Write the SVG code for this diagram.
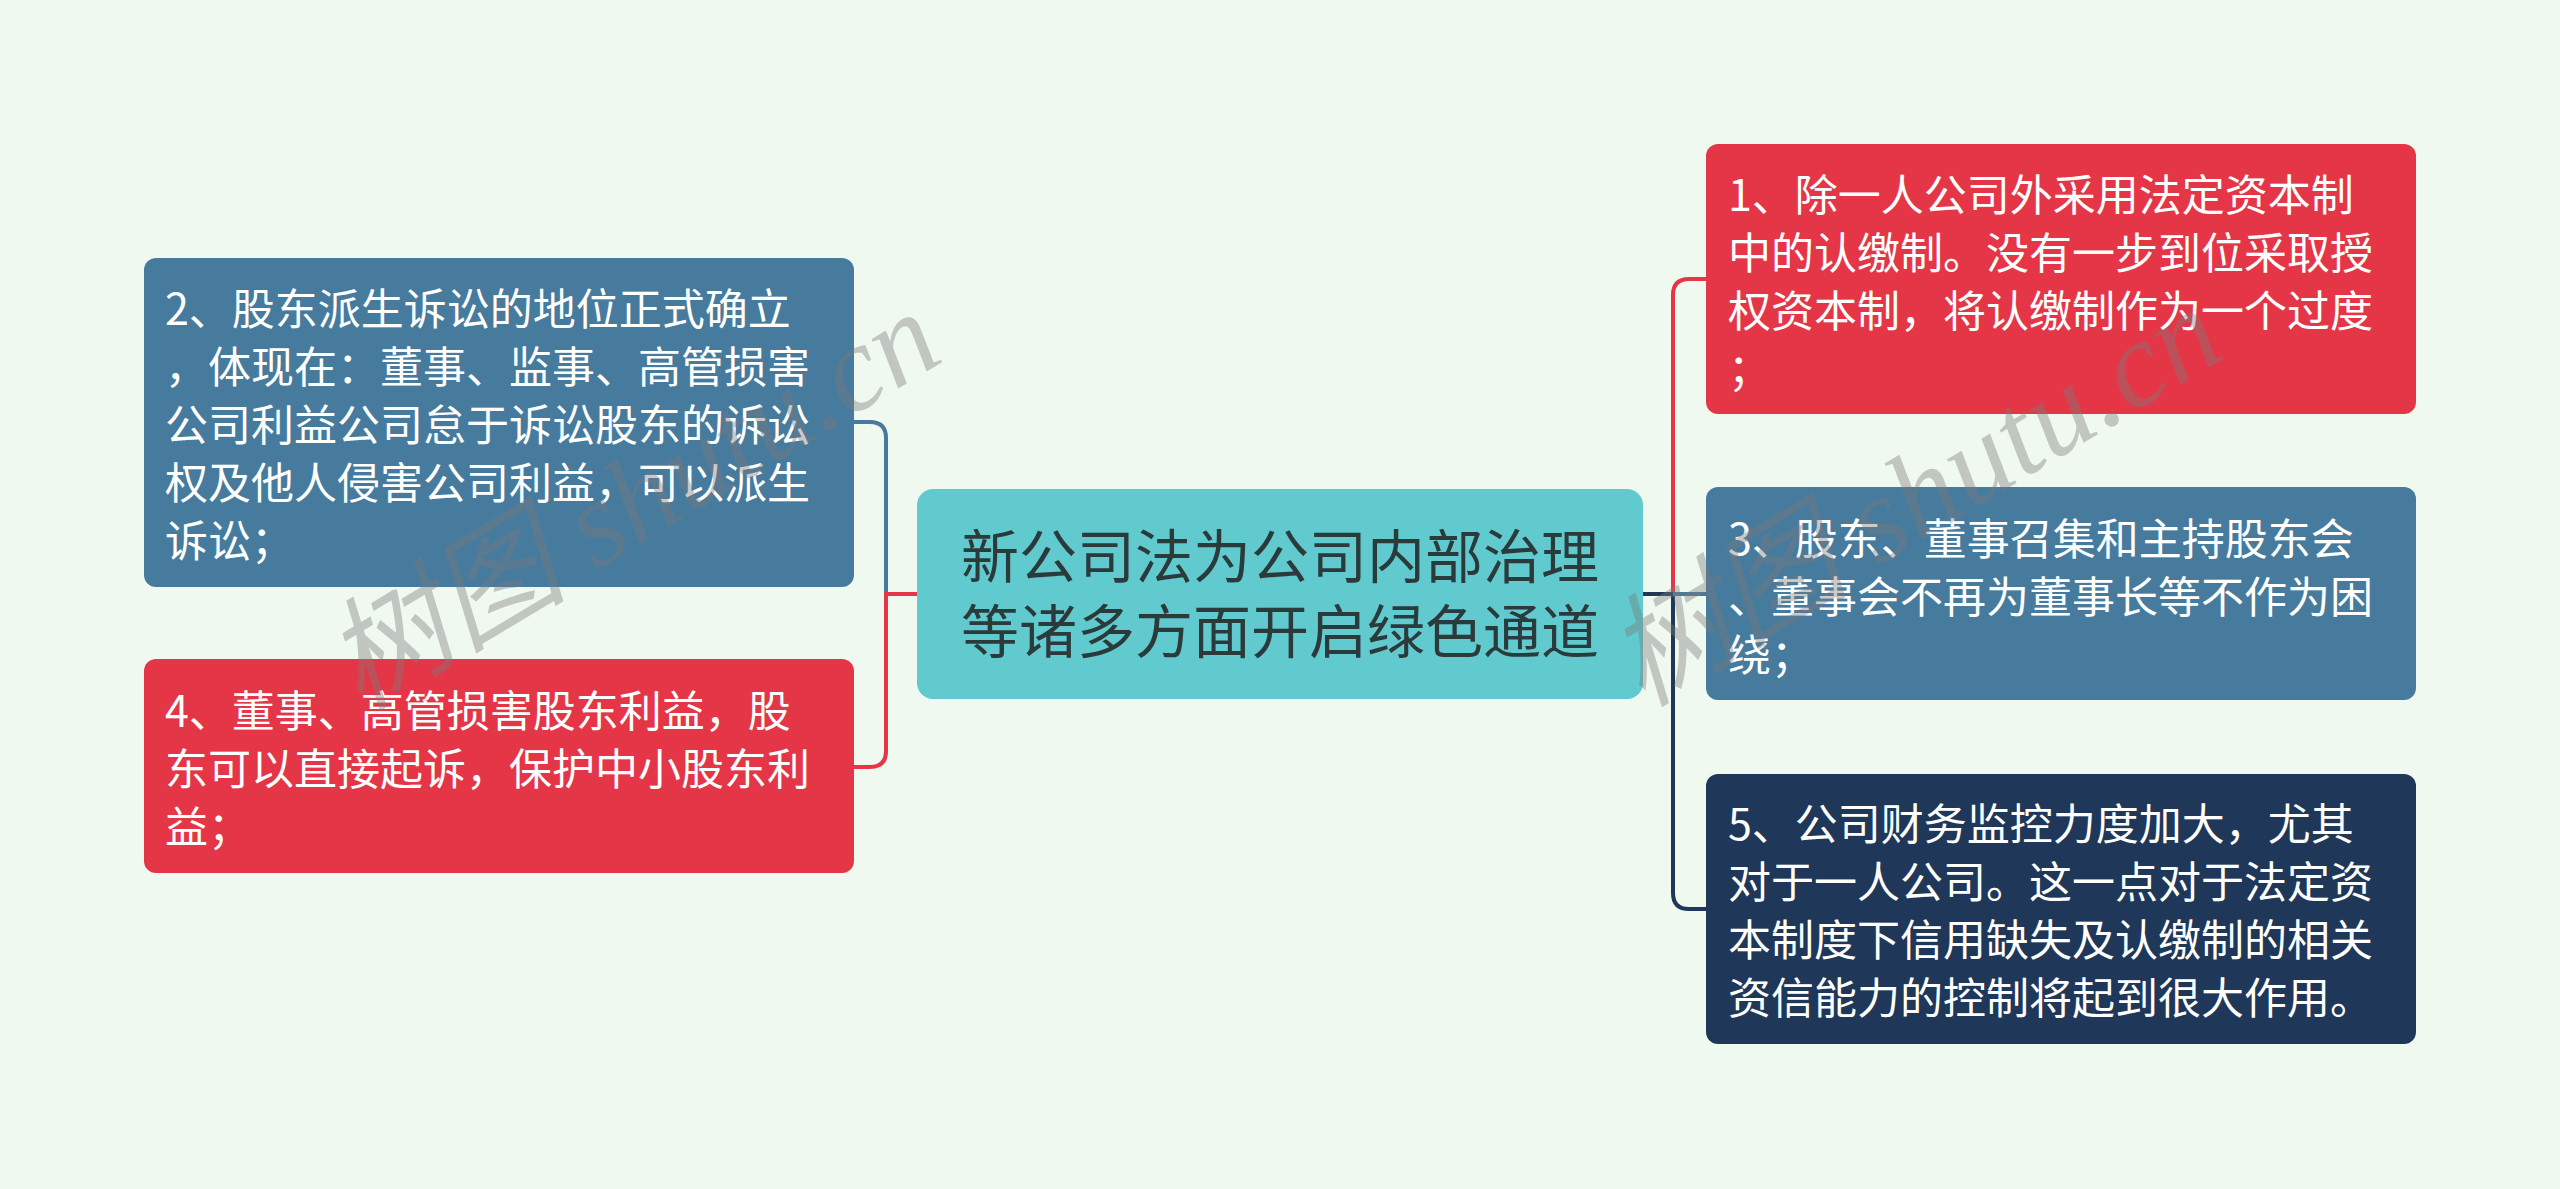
<svg xmlns="http://www.w3.org/2000/svg" width="2560" height="1189" viewBox="0 0 2560 1189">
<style>
.bg{fill:#F0F9EF}
.t{font-family:"Noto Sans CJK SC","Noto Sans",sans-serif;font-size:43px;fill:#FFFFFF}
.tc{font-family:"Noto Sans CJK SC","Noto Sans",sans-serif;font-size:58px;fill:#2B3A3B;text-anchor:middle}
.red{fill:#E43646}
.blue{fill:#467B9E}
.navy{fill:#1F3758}
.teal{fill:#60CACE}
.c{fill:none;stroke-width:4;stroke-linecap:butt}
.wm{font-family:"Liberation Serif","Noto Sans CJK SC",serif;font-size:122px;fill:#7A7A7A;fill-opacity:0.4;font-style:italic}
</style>
<rect class="bg" x="0" y="0" width="2560" height="1189"/>
<g id="connectors">
<path class="c" stroke="#467B9E" d="M854,422 H870 Q886,422 886,438 V594"/>
<path class="c" stroke="#E43646" d="M917,594 H886 V751 Q886,767 870,767 H854"/>
<path class="c" stroke="#E43646" d="M1706,279 H1689 Q1673,279 1673,295 V594"/>
<path class="c" stroke="#1F3758" d="M1643,594 H1673 V893 Q1673,909 1689,909 H1706"/>
<path class="c" stroke="#467B9E" d="M1673,594 H1706"/>
</g>
<g id="center">
<rect class="teal" x="917" y="489" width="726" height="210" rx="16"/>
<text class="tc"><tspan x="1280" y="578">新公司法为公司内部治理</tspan><tspan x="1280" y="653">等诸多方面开启绿色通道</tspan></text>
</g>
<g id="node2">
<rect class="blue" x="144" y="258" width="710" height="329" rx="12"/>
<text class="t" x="165" y="325">2、股东派生诉讼的地位正式确立</text>
<text class="t" x="165" y="383">，体现在：董事、监事、高管损害</text>
<text class="t" x="165" y="441">公司利益公司怠于诉讼股东的诉讼</text>
<text class="t" x="165" y="499">权及他人侵害公司利益，可以派生</text>
<text class="t" x="165" y="557">诉讼；</text>
</g>
<g id="node4">
<rect class="red" x="144" y="659" width="710" height="214" rx="12"/>
<text class="t" x="165" y="727">4、董事、高管损害股东利益，股</text>
<text class="t" x="165" y="785">东可以直接起诉，保护中小股东利</text>
<text class="t" x="165" y="843">益；</text>
</g>
<g id="node1">
<rect class="red" x="1706" y="144" width="710" height="270" rx="12"/>
<text class="t" x="1728" y="211">1、除一人公司外采用法定资本制</text>
<text class="t" x="1728" y="269">中的认缴制。没有一步到位采取授</text>
<text class="t" x="1728" y="327">权资本制，将认缴制作为一个过度</text>
<text class="t" x="1728" y="385">；</text>
</g>
<g id="node3">
<rect class="blue" x="1706" y="487" width="710" height="213" rx="12"/>
<text class="t" x="1728" y="555">3、股东、董事召集和主持股东会</text>
<text class="t" x="1728" y="613">、董事会不再为董事长等不作为困</text>
<text class="t" x="1728" y="671">绕；</text>
</g>
<g id="node5">
<rect class="navy" x="1706" y="774" width="710" height="270" rx="12"/>
<text class="t" x="1728" y="840">5、公司财务监控力度加大，尤其</text>
<text class="t" x="1728" y="898">对于一人公司。这一点对于法定资</text>
<text class="t" x="1728" y="956">本制度下信用缺失及认缴制的相关</text>
<text class="t" x="1728" y="1014">资信能力的控制将起到很大作用。</text>
</g>
<g id="watermarks">
<text class="wm" transform="translate(360,712) rotate(-31)">树图 shutu.cn</text>
<text class="wm" transform="translate(1642,708) rotate(-31)">树图 shutu.cn</text>
</g>
</svg>
